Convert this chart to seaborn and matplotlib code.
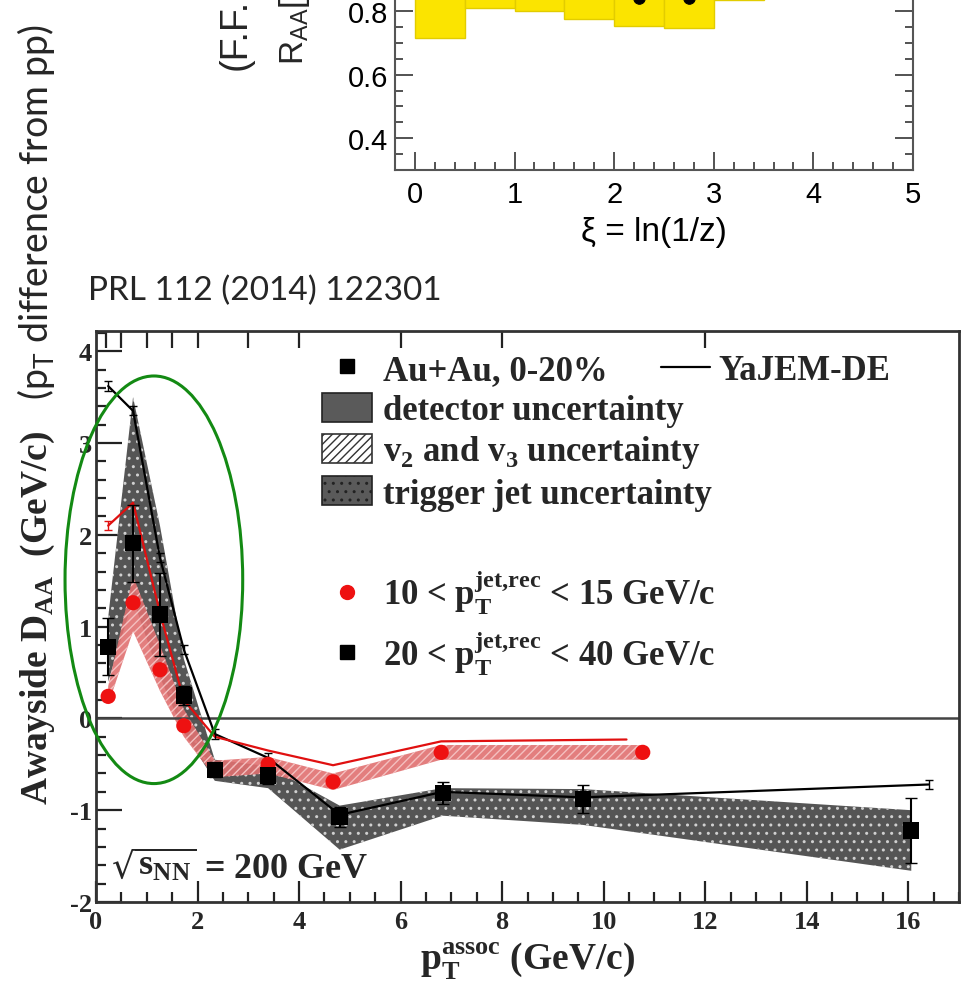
import numpy as np
import pandas as pd
import matplotlib
matplotlib.use("Agg")
import matplotlib.pyplot as plt
import seaborn as sns
from matplotlib.patches import Ellipse, Patch
from matplotlib.lines import Line2D
from matplotlib.ticker import MultipleLocator

# ---------------- data: top panel (fragmentation-function R_AA) ----------------
xi_lo = [0.0, 0.5, 1.0, 1.5, 2.0, 2.5, 3.0]
xi_width = [0.5, 0.5, 0.5, 0.5, 0.5, 0.5, 0.5]
raa = [0.90, 0.98, 0.97, 0.93, 0.842, 0.842, 1.00]
raa_sys = [0.185, 0.17, 0.17, 0.155, 0.089, 0.095, 0.165]
xi_ticks = [0, 1, 2, 3, 4, 5]
raa_ticks = [0.4, 0.6, 0.8]

# ---------------- data: bottom panel (awayside D_AA) ----------------
pt_au = [0.24, 0.73, 1.26, 1.73, 2.34, 3.39, 4.80, 6.83, 9.59, 16.06]
daa_au = [0.78, 1.91, 1.13, 0.25, -0.56, -0.62, -1.07, -0.81, -0.88, -1.22]
daa_au_err = [0.31, 0.42, 0.45, 0.10, 0.08, 0.09, 0.11, 0.12, 0.15, 0.35]
au_band_lo = [0.40, 1.30, 0.45, -0.15, -0.68, -0.76, -1.43, -1.06, -1.16, -1.66]
au_band_hi = [1.10, 3.50, 2.10, 0.65, -0.45, -0.52, -0.95, -0.76, -0.77, -1.00]

pt_red = [0.24, 0.73, 1.26, 1.73, 2.34, 3.39, 4.67, 6.80, 10.77]
daa_red = [0.24, 1.26, 0.53, -0.08, -0.56, -0.50, -0.69, -0.37, -0.37]
red_band_lo = [0.15, 0.95, 0.30, -0.20, -0.64, -0.60, -0.78, -0.45, -0.45]
red_band_hi = [0.35, 1.55, 0.80, 0.10, -0.46, -0.42, -0.60, -0.29, -0.29]

yajem_pt_hi = [0.24, 0.73, 1.26, 1.73, 2.34, 3.39, 4.80, 6.83, 9.59, 16.40]
yajem_hi = [3.62, 3.35, 1.75, 0.75, -0.17, -0.43, -1.05, -0.80, -0.86, -0.72]
yajem_pt_lo = [0.24, 0.73, 1.26, 1.73, 2.34, 3.39, 4.67, 6.80, 10.45]
yajem_lo = [2.10, 2.35, 1.15, 0.20, -0.20, -0.35, -0.51, -0.25, -0.23]

pt_bin_edges = [0.2, 0.5, 1.0, 1.5, 2.0, 3.0, 4.0, 6.0, 8.0, 12.0]

# ---------------- style ----------------
sns.set_style("white")
plt.rcParams["font.family"] = ["Liberation Sans", "DejaVu Sans"]
plt.rcParams["hatch.linewidth"] = 1.0

W, H = 961, 987
fig = plt.figure(figsize=(W / 100, H / 100), dpi=100)
fig.patch.set_facecolor("white")


def fx(px):
    return px / W


def fy(py):
    return 1 - py / H


SERIF = ["Liberation Serif", "DejaVu Serif"]
SANS_C = ["Lato", "DejaVu Sans"]

# ================= top panel =================
ax1 = fig.add_axes([fx(395), fy(171), fx(913) - fx(395), fy(0) - fy(171)])
ax1.set_facecolor("white")
raa_a = np.array(raa)
sys_a = np.array(raa_sys)
ax1.bar(xi_lo, 2 * sys_a, bottom=raa_a - sys_a, width=xi_width, align="edge",
        color="#fbe400", edgecolor="#e2cc00", linewidth=1.0, zorder=2)
xi_c = np.array(xi_lo) + np.array(xi_width) / 2
sns.scatterplot(x=xi_c, y=raa_a, color="black", s=70, ax=ax1, zorder=3,
                edgecolor="black", legend=False)
ax1.set_xlim(-0.2, 5.0)
ax1.set_ylim(0.3, 0.838)
ax1.set_xticks(xi_ticks)
ax1.set_yticks(raa_ticks)
ax1.set_yticklabels(["0.4", "0.6", "0.8"])
ax1.xaxis.set_minor_locator(MultipleLocator(0.2))
ax1.yaxis.set_minor_locator(MultipleLocator(0.05))
ax1.tick_params(which="both", direction="in", left=True, right=True, bottom=True,
                top=False, colors="#444444", labelcolor="black", width=1.3)
ax1.tick_params(which="major", length=13, labelsize=21, pad=7)
ax1.tick_params(axis="y", which="major", pad=5)
ax1.tick_params(which="minor", length=6)
for s in ["left", "right", "bottom"]:
    ax1.spines[s].set_color("#555555")
    ax1.spines[s].set_linewidth(1.5)
ax1.spines["top"].set_visible(False)
ax1.set_xlabel(r"ξ = ln(1/z)", fontsize=24, labelpad=6, color="black")
ax1.set_ylabel("")
ax1.text(560, 105, "Yen-Jie Lee, QM14", transform=None, fontsize=24,
         family=SANS_C, va="center", ha="left")

# rotated labels of the top panel (cut off at the top of the slide)
fig.text(fx(236), fy(70), "(F.F.", rotation=90, fontsize=27, ha="center",
         va="bottom", family=["Liberation Sans", "DejaVu Sans"])
fig.text(fx(294), fy(65), r"R$_\mathregular{AA}$[", rotation=90, fontsize=24,
         ha="center", va="bottom", family=["Liberation Sans", "DejaVu Sans"])
fig.text(fx(36), fy(400), r"(p$_\mathregular{T}$ difference from pp)", rotation=90,
         fontsize=27, ha="center", va="bottom", family=SANS_C)
fig.text(fx(88), fy(291), "PRL 112 (2014) 122301", fontsize=24, ha="left",
         va="center", family=SANS_C)

# ================= bottom panel =================
ax2 = fig.add_axes([fx(96), fy(903), fx(959) - fx(96), fy(332) - fy(903)])
ax2.set_facecolor("white")
ax2.set_xlim(0, 17)
ax2.set_ylim(-2, 4.22)

# uncertainty bands
ax2.fill_between(pt_au, au_band_lo, au_band_hi, facecolor="#555555",
                 edgecolor="none", linewidth=0, zorder=1)
ax2.fill_between(pt_au, au_band_lo, au_band_hi, facecolor="none",
                 edgecolor="#d0d0d0", hatch="..", linewidth=0, zorder=1.1)
ax2.fill_between(pt_red, red_band_lo, red_band_hi, facecolor="#e07070",
                 edgecolor="none", linewidth=0, alpha=0.9, zorder=1.5)
ax2.fill_between(pt_red, red_band_lo, red_band_hi, facecolor="none",
                 edgecolor="#f4c0c0", hatch="////", linewidth=0, zorder=1.6)

ax2.axhline(0, color="#444444", lw=1.8, zorder=1.8)

# YaJEM-DE curves
model = pd.DataFrame({"pt": yajem_pt_hi + yajem_pt_lo,
                      "daa": yajem_hi + yajem_lo,
                      "bin": ["hi"] * len(yajem_hi) + ["lo"] * len(yajem_lo)})
sns.lineplot(data=model, x="pt", y="daa", hue="bin", sort=False,
             palette={"hi": "black", "lo": "#e01010"}, linewidth=1.6,
             estimator=None, ax=ax2, legend=False, zorder=2)
ax2.errorbar(yajem_pt_hi, yajem_hi, yerr=0.05, fmt="none", ecolor="black",
             elinewidth=1.0, capsize=3, zorder=2)
ax2.errorbar(yajem_pt_lo[:1], yajem_lo[:1], yerr=0.05, fmt="none", ecolor="#e01010",
             elinewidth=1.0, capsize=3, zorder=2)

# data points
ax2.errorbar(pt_au, daa_au, yerr=daa_au_err, fmt="none", ecolor="black",
             elinewidth=1.5, capsize=4, zorder=3)
sns.scatterplot(x=pt_red, y=daa_red, color="#ee1111", s=120, marker="o",
                edgecolor="none", ax=ax2, zorder=3.5, legend=False)
sns.scatterplot(x=pt_au, y=daa_au, color="black", s=140, marker="s",
                edgecolor="none", ax=ax2, zorder=4, legend=False)

# green ellipse highlight
ax2.add_patch(Ellipse((1.14, 1.51), 3.5, 4.44, fill=False, edgecolor="#138a13",
                      linewidth=2.2, clip_on=False, zorder=6))

# axes cosmetics
for s in ax2.spines.values():
    s.set_color("#333333")
    s.set_linewidth(2.0)
ax2.xaxis.set_major_locator(MultipleLocator(2))
ax2.xaxis.set_minor_locator(MultipleLocator(0.5))
ax2.yaxis.set_major_locator(MultipleLocator(1))
ax2.yaxis.set_minor_locator(MultipleLocator(0.2))
ax2.tick_params(which="both", direction="in", left=True, bottom=True, top=False,
                right=False, color="#222222", width=1.6)
ax2.tick_params(axis="x", which="major", length=15, pad=6)
ax2.tick_params(axis="y", which="major", length=19, pad=3)
ax2.tick_params(which="minor", length=7)
ax2.set_xticks([0, 2, 4, 6, 8, 10, 12, 14, 16])
ax2.set_xticklabels(["0", "2", "4", "6", "8", "10", "12", "14", "16"],
                    family=SERIF, weight="bold", fontsize=19)
ax2.set_yticks([-2, -1, 0, 1, 2, 3, 4])
ax2.set_yticklabels(["-2", "-1", "0", "1", "2", "3", "4"],
                    family=SERIF, weight="bold", fontsize=19)

top = ax2.secondary_xaxis("top")
top.set_ticks(pt_bin_edges)
top.set_xticklabels([])
top.tick_params(direction="in", length=12, width=1.6, color="#222222")
top.spines["top"].set_visible(False)

ax2.set_xlabel(r"p$_\mathregular{T}^\mathregular{assoc}$ (GeV/c)", family=SERIF,
               weight="bold", fontsize=27, labelpad=4)
ax2.set_ylabel(r"Awayside D$_\mathregular{AA}$  (GeV/c)", family=SERIF,
               weight="bold", fontsize=27, labelpad=9)

ax2.text(0.3, -1.62, r"$\sqrt{\mathregular{s}_\mathregular{NN}}$ = 200 GeV",
         family=SERIF, weight="bold", fontsize=26, va="center", ha="left", zorder=7)

# legends
lfont = {"family": SERIF, "weight": "bold", "size": 25}
h1 = [Line2D([], [], marker="s", color="black", ls="none", markersize=10.5),
      Patch(facecolor="#5a5a5a", edgecolor="#222222", linewidth=1.2),
      Patch(facecolor="white", edgecolor="#333333", hatch="////", linewidth=1.2),
      Patch(facecolor="#5a5a5a", edgecolor="#222222", hatch="..", linewidth=1.2)]
l1 = ["Au+Au, 0-20%", "detector uncertainty",
      r"v$_\mathregular{2}$ and v$_\mathregular{3}$ uncertainty",
      "trigger jet uncertainty"]
leg1 = ax2.legend(h1, l1, loc="upper left", bbox_to_anchor=(0.262, 0.962),
                  frameon=False, prop=lfont, handlelength=1.45, handleheight=0.9,
                  handletextpad=0.3, labelspacing=0.17, borderaxespad=0,
                  borderpad=0)
ax2.add_artist(leg1)

leg2 = ax2.legend([Line2D([], [], color="black", lw=1.6)], ["YaJEM-DE"],
                  loc="upper left", bbox_to_anchor=(0.655, 0.96), frameon=False,
                  prop=lfont, handlelength=1.4, handletextpad=0.25,
                  borderaxespad=0, borderpad=0)
ax2.add_artist(leg2)

h3 = [Line2D([], [], marker="o", color="#ee1111", ls="none", markersize=10),
      Line2D([], [], marker="s", color="black", ls="none", markersize=10.5)]
l3 = [r"10 < p$^\mathregular{jet{,}rec}_\mathregular{T}$ < 15 GeV/c",
      r"20 < p$^\mathregular{jet{,}rec}_\mathregular{T}$ < 40 GeV/c"]
leg3 = ax2.legend(h3, l3, loc="upper left", bbox_to_anchor=(0.262, 0.585),
                  frameon=False, prop=lfont, handlelength=1.45,
                  handletextpad=0.3, labelspacing=0.35, borderaxespad=0,
                  borderpad=0)

fig.savefig("out.png", dpi=100, facecolor="white")
